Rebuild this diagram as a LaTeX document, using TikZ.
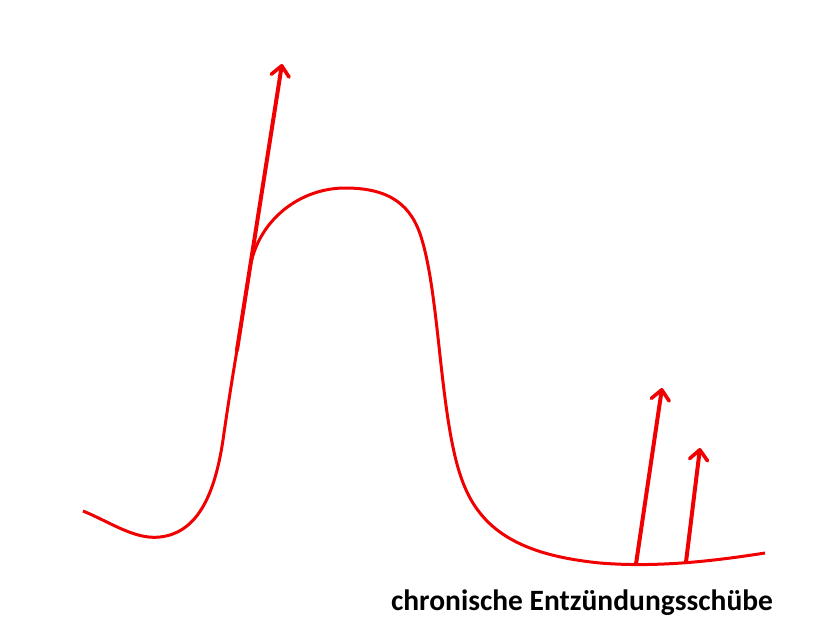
\documentclass[tikz,border=0pt]{standalone}
\usepackage{fontspec}
\setmainfont{Carlito}
\usetikzlibrary{arrows.meta}
\definecolor{pred}{RGB}{240,0,0}
\tikzset{
  curve/.style={draw=pred, line width=3pt},
  pfeil/.style={draw=pred, line width=4pt, line cap=round, -{Straight Barb[length=10pt,width=18pt,line width=3.6pt,round]}},
}
\begin{document}
\begin{tikzpicture}[x=1pt,y=-1pt]
\useasboundingbox (0,0) rectangle (835,632);
\coordinate (s) at (83,511);
\coordinate (e) at (765,553);
\draw[curve] (s) .. controls (110,522) and (135,540) .. (160,537)
  .. controls (195,533) and (214,500) .. (223,440)
  .. controls (228,405) and (232,380) .. (237,350)
  -- (250,268)
  .. controls (258,220) and (300,188) .. (345,188)
  .. controls (390,188) and (412,205) .. (422,240)
  .. controls (440,300) and (440,420) .. (462,480)
  .. controls (480,530) and (520,555) .. (600,563)
  .. controls (660,568) and (720,560) .. (e);
\coordinate (a1) at (237,350);
\coordinate (t1) at (282,64);
\coordinate (a2) at (636,564);
\coordinate (t2) at (662,388);
\coordinate (a3) at (686,562);
\coordinate (t3) at (700,448);
\draw[pfeil] (a1) -- (t1);
\draw[pfeil] (a2) -- (t2);
\draw[pfeil] (a3) -- (t3);
\node[font=\bfseries\fontsize{29.5}{34}\selectfont, anchor=base] (lab) at (582,610) {chronische Entzündungsschübe};
\end{tikzpicture}
\end{document}
